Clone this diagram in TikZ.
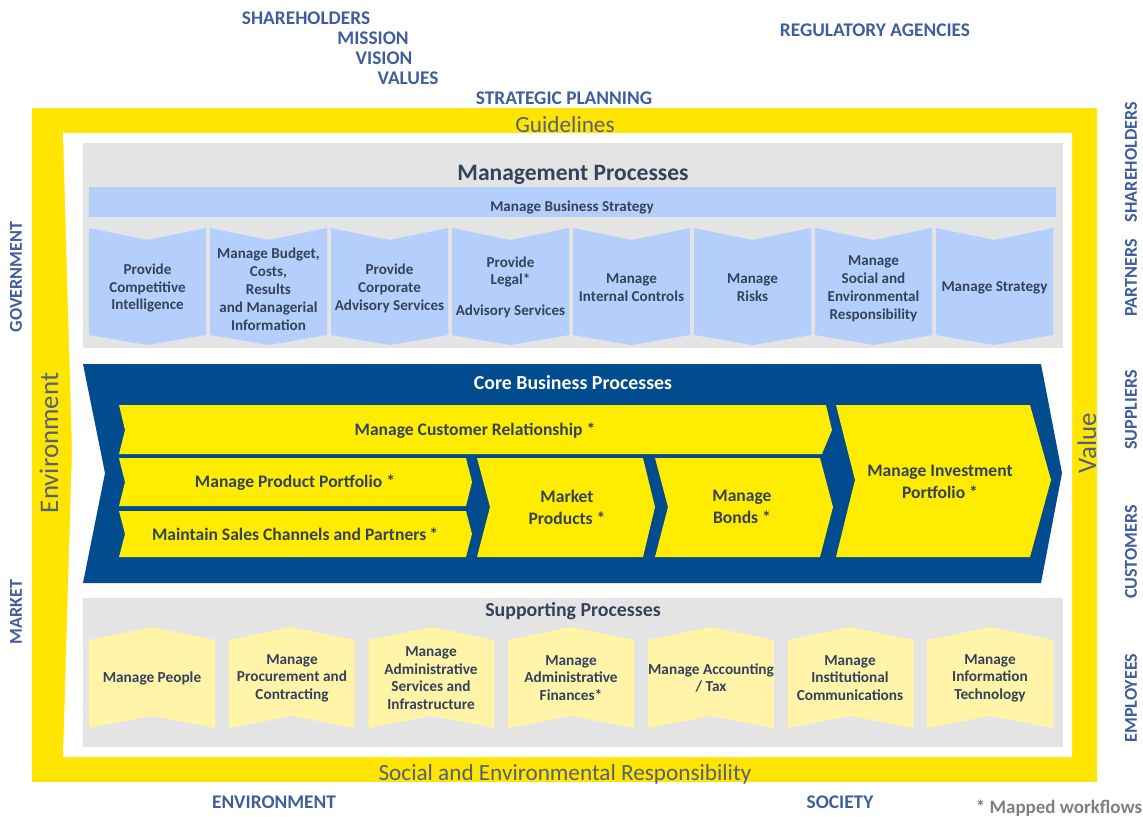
\documentclass[tikz,border=0pt]{standalone}
\usepackage{fontspec}
\setmainfont{Carlito}
\definecolor{yframe}{HTML}{FFE500}
\definecolor{ycore}{HTML}{FFEC00}
\definecolor{ysupp}{HTML}{FFF4A8}
\definecolor{gbg}{HTML}{E4E4E4}
\definecolor{lblue}{HTML}{B4CFFB}
\definecolor{dblue}{HTML}{004C8E}
\definecolor{txtc}{HTML}{34425C}
\definecolor{lblc}{HTML}{3F5E9C}
\definecolor{bandc}{HTML}{55617A}
\definecolor{notec}{HTML}{808080}
\tikzset{
  outer/.style={font=\fontsize{11}{12}\selectfont\bfseries, text=lblc, inner sep=0pt},
  side/.style={font=\fontsize{10.3}{12}\selectfont\bfseries, text=lblc, inner sep=0pt, rotate=90},
  band/.style={font=\fontsize{13.2}{15}\selectfont, text=bandc, inner sep=0pt},
  bandbig/.style={font=\fontsize{15.3}{17}\selectfont, text=bandc, inner sep=0pt, rotate=90},
  mgtxt/.style={font=\fontsize{8.6}{10.2}\selectfont\bfseries, text=txtc, align=center, inner sep=0pt},
  sptxt/.style={font=\fontsize{8.7}{10}\selectfont\bfseries, text=txtc, align=center, inner sep=0pt},
  coretxt/.style={font=\fontsize{10}{12.4}\selectfont\bfseries, text=txtc, align=center, inner sep=0pt},
  title/.style={font=\fontsize{11.3}{13}\selectfont\bfseries, text=txtc, inner sep=0pt},
}
\begin{document}
\begin{tikzpicture}[x=0.02cm,y=-0.02cm]
\useasboundingbox (0,0) rectangle (1143,816);
% frame
\fill[yframe] (32,108) rectangle (1097,782);
\fill[white] (63,133) -- (1072,133) -- (1072,757) -- (63,757) -- (72,450) -- cycle;
% management
\fill[gbg] (83,143) rectangle (1063,348);
\fill[lblue] (89,187) rectangle (1056,217);
\foreach \i in {0,...,7}{
  \pgfmathsetmacro{\xa}{89+\i*121}
  \pgfmathsetmacro{\xb}{\xa+117}
  \pgfmathsetmacro{\xc}{\xa+58.5}
  \fill[lblue] (\xa,228) -- (\xc,240) -- (\xb,228) -- (\xb,335) -- (\xc,345) -- (\xa,335) -- cycle;
}
% supporting
\fill[gbg] (83,598) rectangle (1063,747);
\foreach \i in {0,...,6}{
  \pgfmathsetmacro{\xa}{89+\i*139.7}
  \pgfmathsetmacro{\xb}{\xa+126}
  \pgfmathsetmacro{\xc}{\xa+63}
  \fill[ysupp] (\xa,640) -- (\xc,627) -- (\xb,640) -- (\xb,728) -- (\xc,716) -- (\xa,728) -- cycle;
}
% core
\fill[dblue] (83,364) -- (1041,364) -- (1062,473) -- (1041,583) -- (83,583) -- (105,473) -- cycle;
\fill[ycore] (119,405) -- (826,405) -- (832,430) -- (822,454) -- (119,454) -- (125,430) -- cycle;
\fill[ycore] (119,458) -- (466,458) -- (472,482) -- (466,506) -- (119,506) -- (125,482) -- cycle;
\fill[ycore] (119,511) -- (466,511) -- (472,534) -- (466,557) -- (119,557) -- (125,534) -- cycle;
\fill[ycore] (477,458) -- (643,458) -- (655,507) -- (643,557) -- (477,557) -- (490,507) -- cycle;
\fill[ycore] (655,458) -- (820,458) -- (833,507) -- (820,557) -- (655,557) -- (668,507) -- cycle;
\fill[ycore] (836,405) -- (1030,405) -- (1051,480) -- (1030,557) -- (836,557) -- (855,480) -- cycle;

% outer labels
\node[outer] (sh) at (306,18) {SHAREHOLDERS};
\node[outer] (mi) at (373,38) {MISSION};
\node[outer] (vi) at (384,58) {VISION};
\node[outer] (va) at (408,78) {VALUES};
\node[outer] (sp) at (564,98) {STRATEGIC PLANNING};
\node[outer] (ra) at (875,30) {REGULATORY AGENCIES};
\node[side] (gov) at (16,277) {GOVERNMENT};
\node[side] (mkt) at (16,612) {MARKET};
\node[side] (rsh) at (1131,162) {SHAREHOLDERS};
\node[side] (par) at (1131,278) {PARTNERS};
\node[side] (sup) at (1131,410) {SUPPLIERS};
\node[side] (cus) at (1131,552) {CUSTOMERS};
\node[side] (emp) at (1131,698) {EMPLOYEES};
\node[outer] (env) at (274,802) {ENVIRONMENT};
\node[outer] (soc) at (840,802) {SOCIETY};
\node[outer,text=notec,font=\fontsize{10.8}{12}\selectfont\bfseries] (note) at (1059,808) {* Mapped workflows};

% band texts
\node[band] (gl) at (565,125) {Guidelines};
\node[band] (ser) at (565,774) {Social and Environmental Responsibility};
\node[bandbig] (envb) at (49,443) {Environment};
\node[bandbig] (val) at (1087,443) {Value};

% management texts
\node[title,font=\fontsize{13.4}{15}\selectfont\bfseries] (mp) at (573,175) {Management Processes};
\node[mgtxt] (mbs) at (572,207) {Manage Business Strategy};
\node[mgtxt] (m1) at (147.5,288) {Provide\\Competitive\\Intelligence};
\node[mgtxt] (m2) at (268.5,289) {Manage Budget,\\Costs,\\Results\\and Managerial\\Information};
\node[mgtxt] (m3) at (389.5,288) {Provide\\Corporate\\Advisory Services};
\node[mgtxt] (m4) at (510.5,287) {Provide\\Legal*\\[7pt]Advisory Services};
\node[mgtxt] (m5) at (631.5,288) {Manage\\Internal Controls};
\node[mgtxt] (m6) at (752.5,288) {Manage\\Risks};
\node[mgtxt] (m7) at (873.5,289) {Manage\\Social and\\Environmental\\Responsibility};
\node[mgtxt] (m8) at (994.5,288) {Manage Strategy};

% core texts
\node[title,text=white] (cbp) at (573,383) {Core Business Processes};
\node[coretxt] (c1) at (475,431) {Manage Customer Relationship *};
\node[coretxt] (c2) at (295,483) {Manage Product Portfolio *};
\node[coretxt] (c3) at (295,534) {Maintain Sales Channels and Partners\,*};
\node[coretxt] (c4) at (567,507) {Market\\Products *};
\node[coretxt] (c5) at (742,507) {Manage\\Bonds *};
\node[coretxt] (c6) at (940,482) {Manage Investment\\Portfolio *};

% supporting texts
\node[title] (spt) at (573,611) {Supporting Processes};
\node[sptxt] (s1) at (152,678) {Manage People};
\node[sptxt] (s2) at (292,678) {Manage\\Procurement and\\Contracting};
\node[sptxt] (s3) at (431,678) {Manage\\Administrative\\Services and\\Infrastructure};
\node[sptxt] (s4) at (571,678) {Manage\\Administrative\\Finances*};
\node[sptxt] (s5) at (711,678) {Manage Accounting\\/ Tax};
\node[sptxt] (s6) at (850,678) {Manage\\Institutional\\Communications};
\node[sptxt] (s7) at (990,678) {Manage\\Information\\Technology};
\end{tikzpicture}
\end{document}
